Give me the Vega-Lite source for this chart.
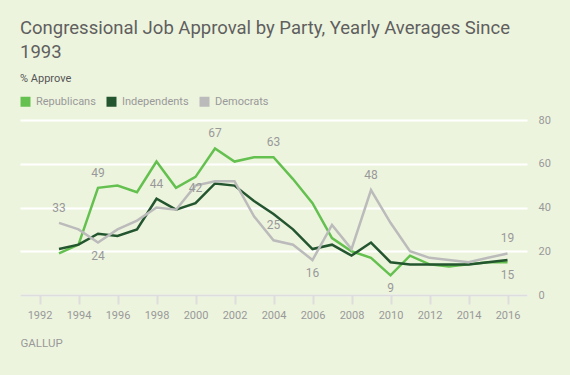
{
  "$schema": "https://vega.github.io/schema/vega-lite/v6.json",
  "width": 507,
  "height": 175,
  "autosize": "none",
  "padding": {"left": 20, "top": 120, "right": 43, "bottom": 80},
  "background": "#edf4de",
  "config": {
    "view": {"stroke": null},
    "font": "Roboto",
    "axis": {"labelFont": "Roboto", "titleFont": "Roboto"},
    "legend": {"labelFont": "Roboto"}
  },
  "title": {
    "text": ["Congressional Job Approval by Party, Yearly Averages Since", "1993"],
    "subtitle": "% Approve",
    "anchor": "start",
    "frame": "group",
    "fontSize": 18.5,
    "fontWeight": "normal",
    "lineHeight": 24,
    "color": "#5f5f5f",
    "subtitleFontSize": 11,
    "subtitleColor": "#555555",
    "subtitlePadding": 12,
    "offset": 12
  },
  "data": {
    "values": [
      {"year": 1993, "party": "Republicans", "value": 19},
      {"year": 1994, "party": "Republicans", "value": 23},
      {"year": 1995, "party": "Republicans", "value": 49, "callout": "peak"},
      {"year": 1996, "party": "Republicans", "value": 50},
      {"year": 1997, "party": "Republicans", "value": 47},
      {"year": 1998, "party": "Republicans", "value": 61},
      {"year": 1999, "party": "Republicans", "value": 49},
      {"year": 2000, "party": "Republicans", "value": 54},
      {"year": 2001, "party": "Republicans", "value": 67, "callout": "peak"},
      {"year": 2002, "party": "Republicans", "value": 61},
      {"year": 2003, "party": "Republicans", "value": 63},
      {"year": 2004, "party": "Republicans", "value": 63, "callout": "peak"},
      {"year": 2005, "party": "Republicans", "value": 53},
      {"year": 2006, "party": "Republicans", "value": 42},
      {"year": 2007, "party": "Republicans", "value": 26},
      {"year": 2008, "party": "Republicans", "value": 20},
      {"year": 2009, "party": "Republicans", "value": 17},
      {"year": 2010, "party": "Republicans", "value": 9, "callout": "dip"},
      {"year": 2011, "party": "Republicans", "value": 18},
      {"year": 2012, "party": "Republicans", "value": 14},
      {"year": 2013, "party": "Republicans", "value": 13},
      {"year": 2014, "party": "Republicans", "value": 14},
      {"year": 2015, "party": "Republicans", "value": 15},
      {"year": 2016, "party": "Republicans", "value": 15, "callout": "dip"},
      {"year": 1993, "party": "Independents", "value": 21},
      {"year": 1994, "party": "Independents", "value": 23},
      {"year": 1995, "party": "Independents", "value": 28},
      {"year": 1996, "party": "Independents", "value": 27},
      {"year": 1997, "party": "Independents", "value": 30},
      {"year": 1998, "party": "Independents", "value": 44, "callout": "peak"},
      {"year": 1999, "party": "Independents", "value": 39},
      {"year": 2000, "party": "Independents", "value": 42, "callout": "peak"},
      {"year": 2001, "party": "Independents", "value": 51},
      {"year": 2002, "party": "Independents", "value": 50},
      {"year": 2003, "party": "Independents", "value": 43},
      {"year": 2004, "party": "Independents", "value": 37},
      {"year": 2005, "party": "Independents", "value": 30},
      {"year": 2006, "party": "Independents", "value": 21},
      {"year": 2007, "party": "Independents", "value": 23},
      {"year": 2008, "party": "Independents", "value": 18},
      {"year": 2009, "party": "Independents", "value": 24},
      {"year": 2010, "party": "Independents", "value": 15},
      {"year": 2011, "party": "Independents", "value": 14},
      {"year": 2012, "party": "Independents", "value": 14},
      {"year": 2013, "party": "Independents", "value": 14},
      {"year": 2014, "party": "Independents", "value": 14},
      {"year": 2015, "party": "Independents", "value": 15},
      {"year": 2016, "party": "Independents", "value": 16},
      {"year": 1993, "party": "Democrats", "value": 33, "callout": "peak"},
      {"year": 1994, "party": "Democrats", "value": 30},
      {"year": 1995, "party": "Democrats", "value": 24, "callout": "dip"},
      {"year": 1996, "party": "Democrats", "value": 30},
      {"year": 1997, "party": "Democrats", "value": 34},
      {"year": 1998, "party": "Democrats", "value": 40},
      {"year": 1999, "party": "Democrats", "value": 39},
      {"year": 2000, "party": "Democrats", "value": 50},
      {"year": 2001, "party": "Democrats", "value": 52},
      {"year": 2002, "party": "Democrats", "value": 52},
      {"year": 2003, "party": "Democrats", "value": 36},
      {"year": 2004, "party": "Democrats", "value": 25, "callout": "peak"},
      {"year": 2005, "party": "Democrats", "value": 23},
      {"year": 2006, "party": "Democrats", "value": 16, "callout": "dip"},
      {"year": 2007, "party": "Democrats", "value": 32},
      {"year": 2008, "party": "Democrats", "value": 21},
      {"year": 2009, "party": "Democrats", "value": 48, "callout": "peak"},
      {"year": 2010, "party": "Democrats", "value": 33},
      {"year": 2011, "party": "Democrats", "value": 20},
      {"year": 2012, "party": "Democrats", "value": 17},
      {"year": 2013, "party": "Democrats", "value": 16},
      {"year": 2014, "party": "Democrats", "value": 15},
      {"year": 2015, "party": "Democrats", "value": 17},
      {"year": 2016, "party": "Democrats", "value": 19, "callout": "peak"}
    ]
  },
  "encoding": {
    "x": {
      "field": "year",
      "type": "quantitative",
      "scale": {"domain": [1991, 2017], "nice": false, "zero": false},
      "axis": {
        "title": "GALLUP",
        "titleAnchor": "start",
        "titleAlign": "left",
        "titleFontSize": 11.5,
        "titleFontWeight": "normal",
        "titleColor": "#999999",
        "titlePadding": 17,
        "values": [1992, 1994, 1996, 1998, 2000, 2002, 2004, 2006, 2008, 2010, 2012, 2014, 2016],
        "format": "d",
        "grid": false,
        "domainColor": "#dddddd",
        "domainWidth": 2,
        "tickColor": "#dddddd",
        "tickWidth": 2,
        "tickSize": 9,
        "labelFontSize": 11,
        "labelColor": "#999999",
        "labelPadding": 5,
        "zindex": 1
      }
    },
    "y": {
      "field": "value",
      "type": "quantitative",
      "scale": {"domain": [0, 80]},
      "axis": {
        "orient": "right",
        "title": null,
        "values": [0, 20, 40, 60, 80],
        "grid": true,
        "gridColor": "#ffffff",
        "gridWidth": 2,
        "domain": false,
        "ticks": false,
        "labelFontSize": 11,
        "labelColor": "#999999",
        "labelPadding": 11
      }
    }
  },
  "layer": [
    {
      "mark": {"type": "line", "strokeWidth": 2.5},
      "encoding": {
        "color": {
          "field": "party",
          "type": "nominal",
          "scale": {
            "domain": ["Republicans", "Independents", "Democrats"],
            "range": ["#64c04f", "#23552f", "#bbbbbb"]
          },
          "legend": {
            "title": null,
            "orient": "none",
            "legendX": 0,
            "legendY": -24,
            "direction": "horizontal",
            "symbolType": "square",
            "symbolSize": 100,
            "symbolStrokeWidth": 0,
            "labelFontSize": 11,
            "labelColor": "#999999",
            "labelOffset": 5,
            "columnPadding": 10,
            "encode": {
              "symbols": {"update": {"fill": {"scale": "color", "field": "value"}, "fillOpacity": {"value": 1}}}
            }
          }
        },
        "order": {"field": "party", "sort": "descending"}
      }
    },
    {
      "transform": [{"filter": "datum.callout === 'peak'"}],
      "mark": {"type": "text", "dy": -15, "fontSize": 12, "color": "#999999", "baseline": "middle"},
      "encoding": {"text": {"field": "value", "type": "quantitative"}}
    },
    {
      "transform": [{"filter": "datum.callout === 'dip'"}],
      "mark": {"type": "text", "dy": 13, "fontSize": 12, "color": "#999999", "baseline": "middle"},
      "encoding": {"text": {"field": "value", "type": "quantitative"}}
    }
  ]
}
